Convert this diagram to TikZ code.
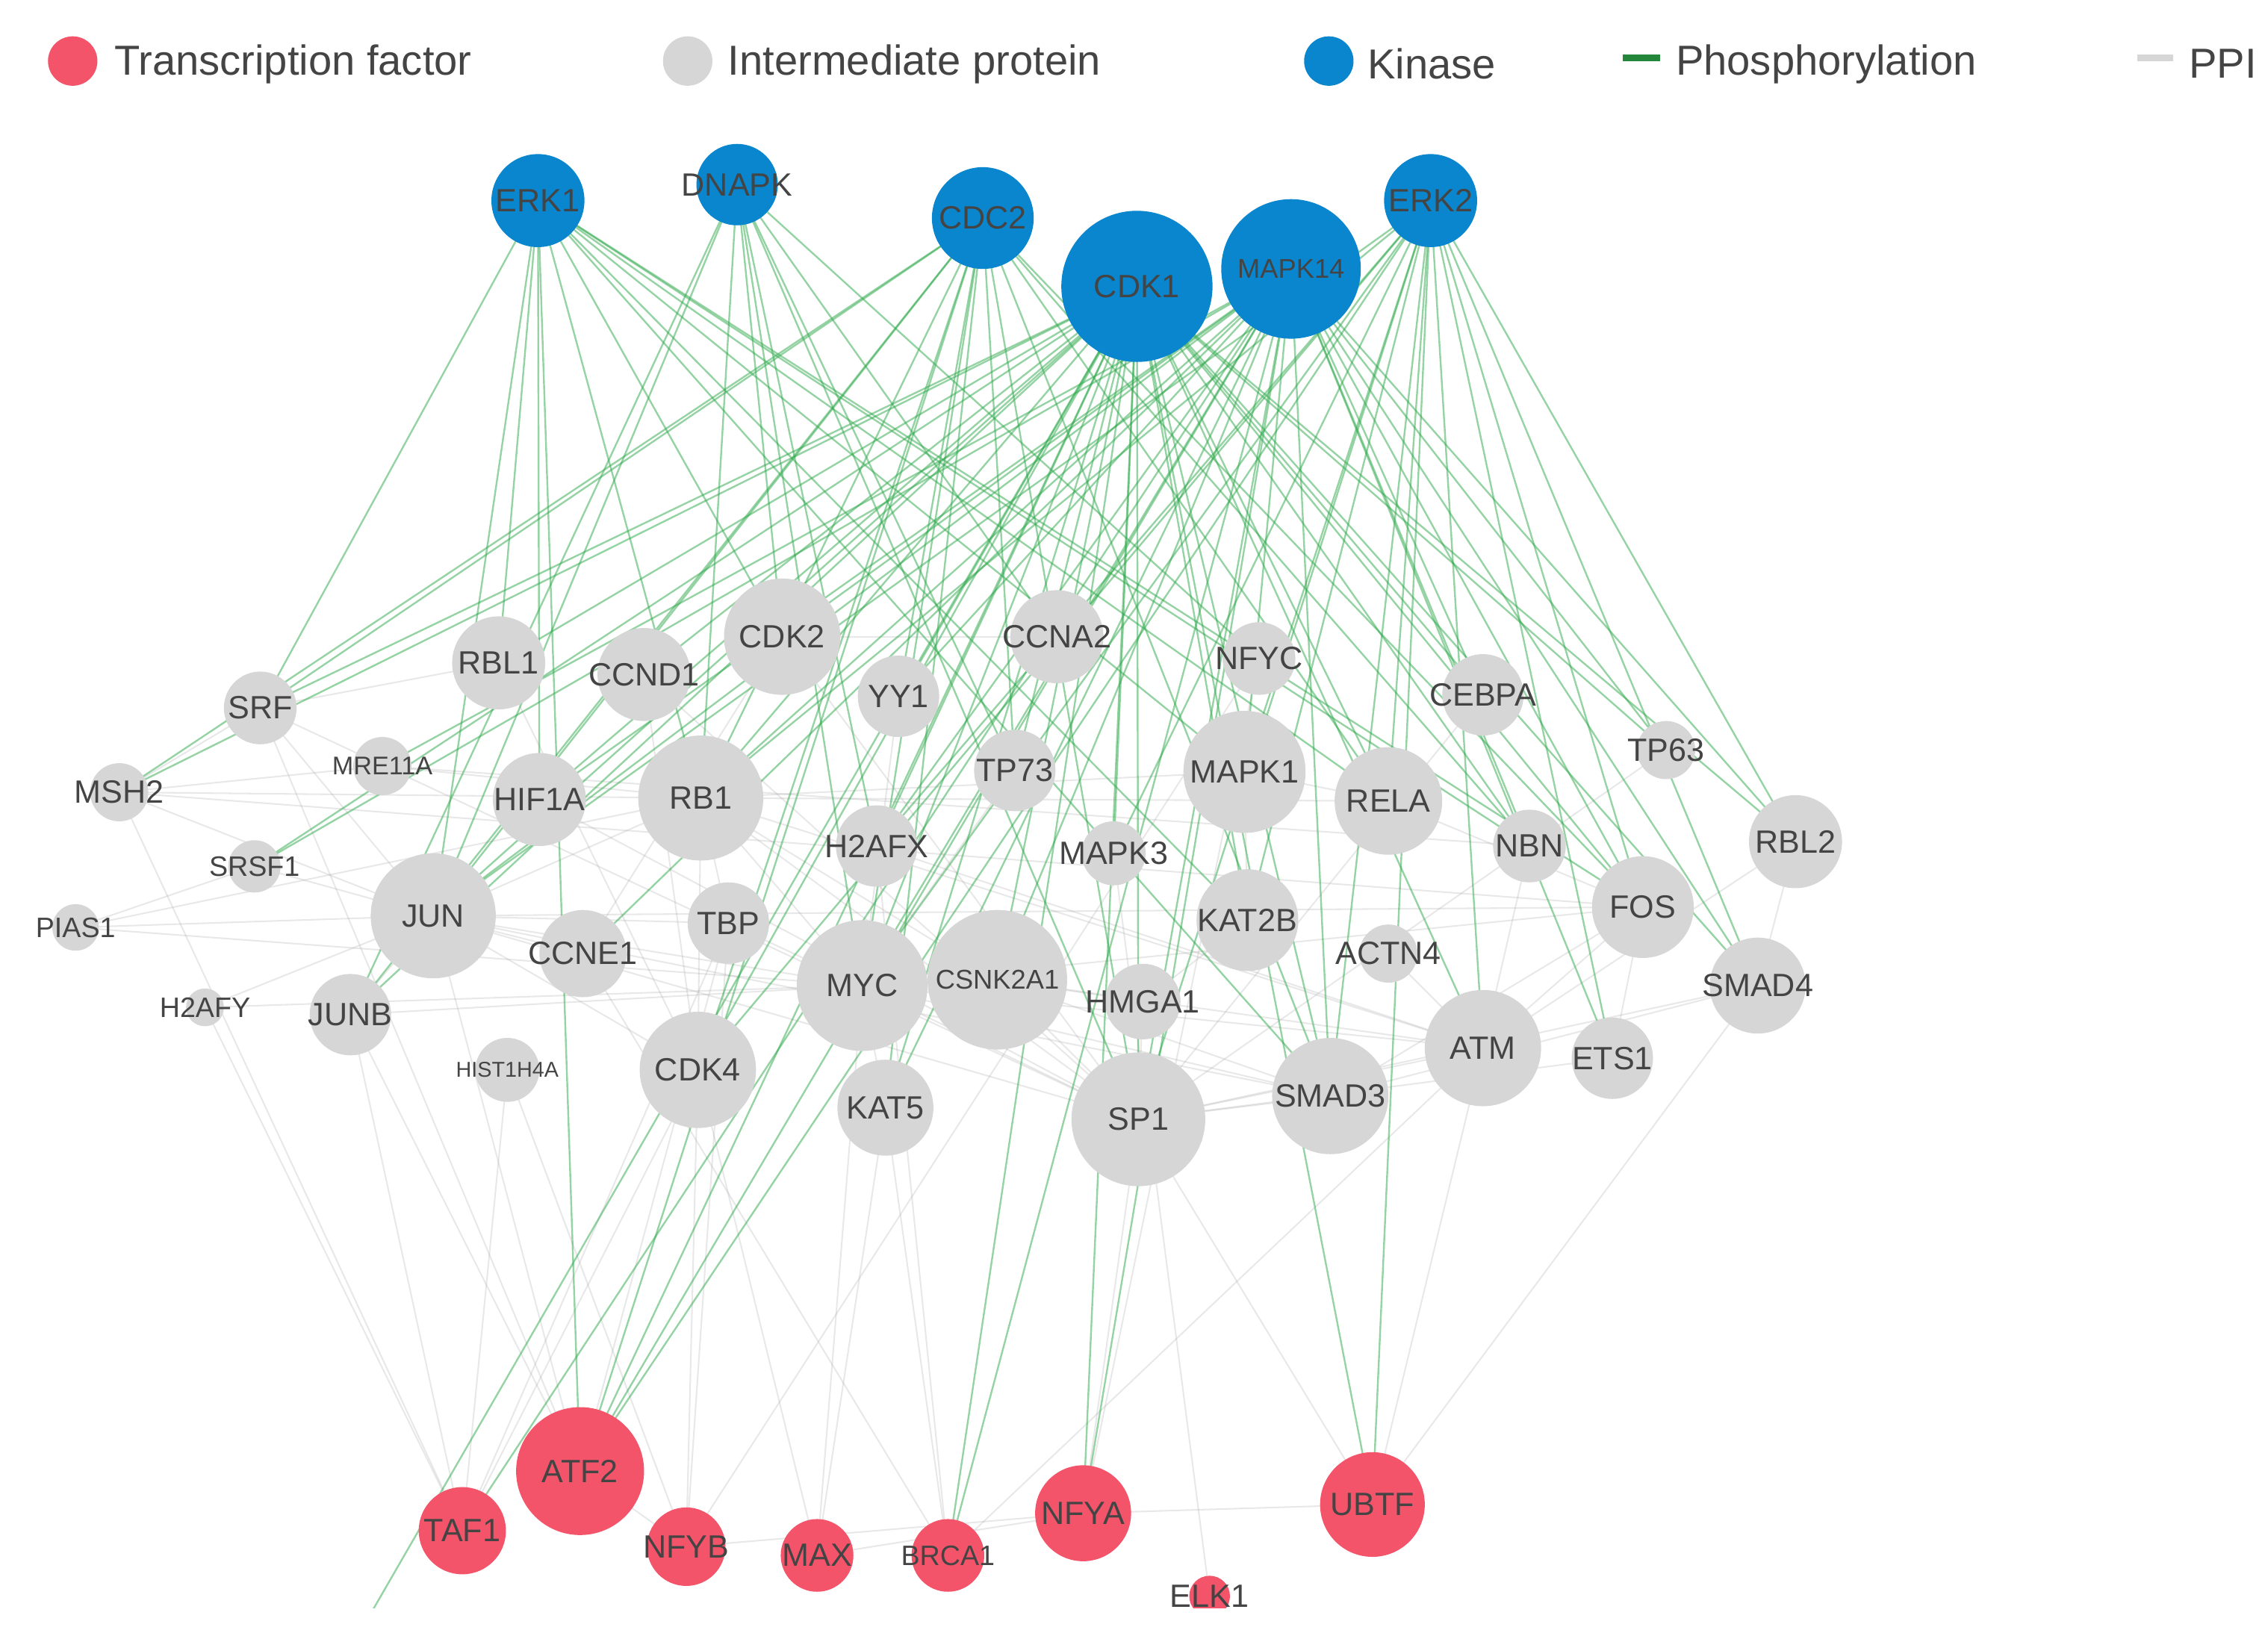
\documentclass[tikz,border=0pt]{standalone}
\usepackage{fontspec}
\setmainfont{Liberation Sans}
\definecolor{kin}{HTML}{0A86CE}
\definecolor{tf}{HTML}{F4546A}
\definecolor{ip}{HTML}{D6D6D6}
\definecolor{ph}{HTML}{2DA84A}
\definecolor{lab}{HTML}{444444}
\tikzset{
 lb/.style={inner sep=0pt,text=lab,font=\fontsize{6.3}{6.3}\selectfont},
 phe/.style={draw=ph,opacity=0.5,line width=0.35pt},
 ppe/.style={draw=gray!60,opacity=0.3,line width=0.3pt},
 leg/.style={font=\fontsize{8.2}{8.2}\selectfont,text=lab,anchor=west,inner sep=0pt}
}
\newcommand{\dn}[4]{\fill[#1] (#2) circle (#3); \node[lb] (#2-l) at (#2) {#4};}
\begin{document}
\begin{tikzpicture}[x=0.01cm,y=-0.01cm]
\useasboundingbox (0,0) rectangle (1560,1121);
% legend
\fill[tf] (50,42) circle (17);
\node[leg] (l1) at (78,44) {Transcription factor};
\fill[ip] (473,42) circle (17);
\node[leg] (l2) at (500,44) {Intermediate protein};
\fill[kin] (914,42) circle (17);
\node[leg] (l3) at (940,44) {Kinase};
\draw[ph!80!black,line width=1.3pt] (1116,40) -- (1142,40);
\node[leg] (l4) at (1152,44) {Phosphorylation};
\draw[ip,line width=1.3pt] (1470,40) -- (1495,40);
\node[leg] (l5) at (1505,44) {PPI};
\begin{scope}
\clip (0,80) rectangle (1560,1106);
\coordinate (ERK1) at (370,138);
\coordinate (DNAPK) at (507,127);
\coordinate (CDC2) at (676,150);
\coordinate (CDK1) at (782,197);
\coordinate (MAPK14) at (888,185);
\coordinate (ERK2) at (984,138);
\coordinate (SRF) at (179,487);
\coordinate (RBL1) at (343,456);
\coordinate (CCND1) at (443,464);
\coordinate (CDK2) at (538,438);
\coordinate (YY1) at (618,479);
\coordinate (CCNA2) at (727,438);
\coordinate (NFYC) at (866,453);
\coordinate (CEBPA) at (1020,478);
\coordinate (TP63) at (1146,516);
\coordinate (MSH2) at (82,545);
\coordinate (MRE11A) at (263,527);
\coordinate (HIF1A) at (371,550);
\coordinate (RB1) at (482,549);
\coordinate (H2AFX) at (603,582);
\coordinate (TP73) at (698,530);
\coordinate (MAPK1) at (856,531);
\coordinate (RELA) at (955,551);
\coordinate (NBN) at (1052,582);
\coordinate (RBL2) at (1235,579);
\coordinate (SRSF1) at (175,596);
\coordinate (MAPK3) at (766,587);
\coordinate (PIAS1) at (52,638);
\coordinate (JUN) at (298,630);
\coordinate (TBP) at (501,635);
\coordinate (CCNE1) at (401,656);
\coordinate (KAT2B) at (858,633);
\coordinate (FOS) at (1130,624);
\coordinate (ACTN4) at (955,656);
\coordinate (SMAD4) at (1209,678);
\coordinate (H2AFY) at (141,693);
\coordinate (JUNB) at (241,698);
\coordinate (MYC) at (593,678);
\coordinate (CSNK2A1) at (686,674);
\coordinate (HMGA1) at (786,689);
\coordinate (HIST1H4A) at (349,736);
\coordinate (CDK4) at (480,736);
\coordinate (ATM) at (1020,721);
\coordinate (ETS1) at (1109,728);
\coordinate (KAT5) at (609,762);
\coordinate (SP1) at (783,770);
\coordinate (SMAD3) at (915,754);
\coordinate (ATF2) at (399,1012);
\coordinate (TAF1) at (318,1053);
\coordinate (NFYB) at (472,1064);
\coordinate (MAX) at (562,1070);
\coordinate (BRCA1) at (652,1070);
\coordinate (NFYA) at (745,1041);
\coordinate (UBTF) at (944,1035);
\coordinate (ELK1) at (832,1098);
\coordinate (off) at (255,1110);
% PPI edges
\foreach \a/\b in {SRF/MSH2,SRF/JUN,SRF/RBL1,MSH2/JUN,MSH2/RB1,MSH2/MRE11A,PIAS1/JUN,PIAS1/MYC,PIAS1/SRSF1,H2AFY/JUN,H2AFY/MYC,H2AFY/TAF1,SRSF1/JUN,JUN/MYC,JUN/RB1,JUN/CDK4,JUN/TBP,JUN/CCNE1,JUN/JUNB,JUN/ATF2,JUN/FOS,JUN/SP1,JUNB/MYC,JUNB/ATF2,JUNB/TAF1,RB1/MYC,RB1/TBP,RB1/CDK4,RB1/SP1,RB1/CSNK2A1,RB1/MAPK1,RB1/RELA,MYC/CSNK2A1,MYC/SP1,MYC/MAX,MYC/TBP,MYC/KAT5,MYC/SMAD3,MYC/ATM,MYC/FOS,CSNK2A1/SP1,CSNK2A1/HMGA1,CSNK2A1/ATM,CSNK2A1/SMAD3,SP1/SMAD3,SP1/ATM,SP1/NFYA,SP1/UBTF,SP1/SMAD4,SP1/ETS1,SMAD3/SMAD4,SMAD3/FOS,ATM/FOS,ATM/NBN,ETS1/FOS,FOS/RELA,RELA/MAPK1,MAPK1/KAT2B,KAT2B/HMGA1,HMGA1/SP1,TBP/NFYB,TBP/TAF1,TBP/ATF2,CDK4/MAX,CDK4/TAF1,CDK4/NFYB,KAT5/BRCA1,KAT5/MAX,HIST1H4A/NFYB,HIST1H4A/TAF1,CCNE1/BRCA1,CCNE1/CDK2,CCND1/CDK4,CDK2/CCNA2,YY1/MYC,TP73/MYC,NFYC/NFYA,NFYC/NFYB,CEBPA/SP1,TP63/SP1,RBL2/SMAD4,RBL2/ATM,ACTN4/ATM,H2AFX/BRCA1,H2AFX/ATM,MAPK3/ELK1,NFYA/NFYB,NFYA/UBTF,ATF2/NFYB,BRCA1/ATM,MAX/NFYA,UBTF/ATM,SMAD4/UBTF,MRE11A/NBN,MRE11A/RB1,HIF1A/SP1,RBL1/CDK4,SRF/ATF2,MSH2/TAF1,PIAS1/RB1,MSH2/FOS,SRF/SP1,JUN/SMAD3,RB1/ATM,CDK2/SP1,CCND1/SP1}
  \draw[ppe] (\a) -- (\b);
% phosphorylation edges
\foreach \k/\t in {ERK1/SRF,ERK1/HIF1A,ERK1/JUN,ERK1/RB1,ERK1/CDK2,ERK1/MAPK1,ERK1/RELA,ERK1/NBN,ERK1/FOS,ERK1/KAT2B,ERK1/ATF2,ERK1/RBL1,ERK1/SMAD3,
 DNAPK/JUN,DNAPK/RB1,DNAPK/CDK2,DNAPK/TP73,DNAPK/MYC,DNAPK/H2AFX,DNAPK/SP1,DNAPK/CCNA2,DNAPK/JUNB,DNAPK/NFYC,
 CDC2/SRF,CDC2/MSH2,CDC2/RB1,CDC2/JUN,CDC2/JUNB,CDC2/CDK4,CDC2/ATF2,CDC2/MYC,CDC2/NBN,CDC2/FOS,CDC2/RELA,CDC2/SP1,CDC2/YY1,CDC2/TP73,CDC2/KAT5,CDC2/SMAD3,
 CDK1/SRF,CDK1/MSH2,CDK1/RBL1,CDK1/CCND1,CDK1/RB1,CDK1/HIF1A,CDK1/JUN,CDK1/SRSF1,CDK1/MYC,CDK1/CSNK2A1,CDK1/TP73,CDK1/H2AFX,CDK1/KAT5,CDK1/SP1,CDK1/BRCA1,CDK1/NFYA,CDK1/UBTF,CDK1/SMAD3,CDK1/ATM,CDK1/NBN,CDK1/RELA,CDK1/FOS,CDK1/SMAD4,CDK1/RBL2,CDK1/CEBPA,CDK1/TP63,CDK1/JUNB,CDK1/ATF2,CDK1/CDK4,CDK1/KAT2B,CDK1/off,CDK1/MAPK3,CDK1/YY1,
 MAPK14/MRE11A,MAPK14/JUN,MAPK14/HIF1A,MAPK14/RB1,MAPK14/CDK2,MAPK14/YY1,MAPK14/MYC,MAPK14/KAT5,MAPK14/ATF2,MAPK14/TAF1,MAPK14/SP1,MAPK14/MAPK1,MAPK14/SMAD3,MAPK14/ETS1,MAPK14/FOS,MAPK14/SMAD4,MAPK14/RBL2,MAPK14/TP63,MAPK14/NBN,MAPK14/CEBPA,MAPK14/H2AFX,MAPK14/NFYA,MAPK14/SRSF1,MAPK14/CCNE1,MAPK14/CSNK2A1,MAPK14/BRCA1,
 ERK2/JUN,ERK2/RB1,ERK2/H2AFX,ERK2/MYC,ERK2/MAPK1,ERK2/RELA,ERK2/SMAD3,ERK2/ATM,ERK2/FOS,ERK2/SMAD4,ERK2/RBL2,ERK2/ETS1,ERK2/SP1,ERK2/ATF2,ERK2/MAPK3,ERK2/UBTF,ERK2/KAT2B,ERK2/CDK4}
  \draw[phe] (\k) -- (\t);
% nodes
\dn{kin}{ERK1}{32}{ERK1}
\dn{kin}{DNAPK}{28}{DNAPK}
\dn{kin}{CDC2}{35}{CDC2}
\dn{kin}{CDK1}{52}{CDK1}
\dn{kin}{MAPK14}{48}{\fontsize{5.3}{5.3}\selectfont MAPK14}
\dn{kin}{ERK2}{32}{ERK2}
\dn{ip}{SRF}{25}{SRF}
\dn{ip}{RBL1}{32}{RBL1}
\dn{ip}{CCND1}{32}{CCND1}
\dn{ip}{CDK2}{40}{CDK2}
\dn{ip}{YY1}{28}{YY1}
\dn{ip}{CCNA2}{32}{CCNA2}
\dn{ip}{NFYC}{25}{NFYC}
\dn{ip}{CEBPA}{28}{CEBPA}
\dn{ip}{TP63}{20}{TP63}
\dn{ip}{MSH2}{20}{MSH2}
\dn{ip}{MRE11A}{20}{\fontsize{5}{5}\selectfont MRE11A}
\dn{ip}{HIF1A}{32}{HIF1A}
\dn{ip}{RB1}{43}{RB1}
\dn{ip}{H2AFX}{28}{H2AFX}
\dn{ip}{TP73}{28}{TP73}
\dn{ip}{MAPK1}{42}{MAPK1}
\dn{ip}{RELA}{37}{RELA}
\dn{ip}{NBN}{25}{NBN}
\dn{ip}{RBL2}{32}{RBL2}
\dn{ip}{SRSF1}{18}{\fontsize{5.5}{5.5}\selectfont SRSF1}
\dn{ip}{MAPK3}{22}{MAPK3}
\dn{ip}{PIAS1}{16}{\fontsize{5.5}{5.5}\selectfont PIAS1}
\dn{ip}{JUN}{43}{JUN}
\dn{ip}{TBP}{28}{TBP}
\dn{ip}{CCNE1}{30}{CCNE1}
\dn{ip}{KAT2B}{35}{KAT2B}
\dn{ip}{FOS}{35}{FOS}
\dn{ip}{ACTN4}{20}{ACTN4}
\dn{ip}{SMAD4}{33}{SMAD4}
\dn{ip}{H2AFY}{13}{\fontsize{5.5}{5.5}\selectfont H2AFY}
\dn{ip}{JUNB}{28}{JUNB}
\dn{ip}{MYC}{45}{MYC}
\dn{ip}{CSNK2A1}{48}{\fontsize{5.3}{5.3}\selectfont CSNK2A1}
\dn{ip}{HMGA1}{26}{HMGA1}
\dn{ip}{HIST1H4A}{22}{\fontsize{4.2}{4.2}\selectfont HIST1H4A}
\dn{ip}{CDK4}{40}{CDK4}
\dn{ip}{ATM}{40}{ATM}
\dn{ip}{ETS1}{28}{ETS1}
\dn{ip}{KAT5}{33}{KAT5}
\dn{ip}{SP1}{46}{SP1}
\dn{ip}{SMAD3}{40}{SMAD3}
\dn{tf}{ATF2}{44}{ATF2}
\dn{tf}{TAF1}{30}{TAF1}
\dn{tf}{NFYB}{27}{NFYB}
\dn{tf}{MAX}{25}{MAX}
\dn{tf}{BRCA1}{25}{\fontsize{5.5}{5.5}\selectfont BRCA1}
\dn{tf}{NFYA}{33}{NFYA}
\dn{tf}{UBTF}{36}{UBTF}
\dn{tf}{ELK1}{14}{ELK1}
\end{scope}
\end{tikzpicture}
\end{document}
